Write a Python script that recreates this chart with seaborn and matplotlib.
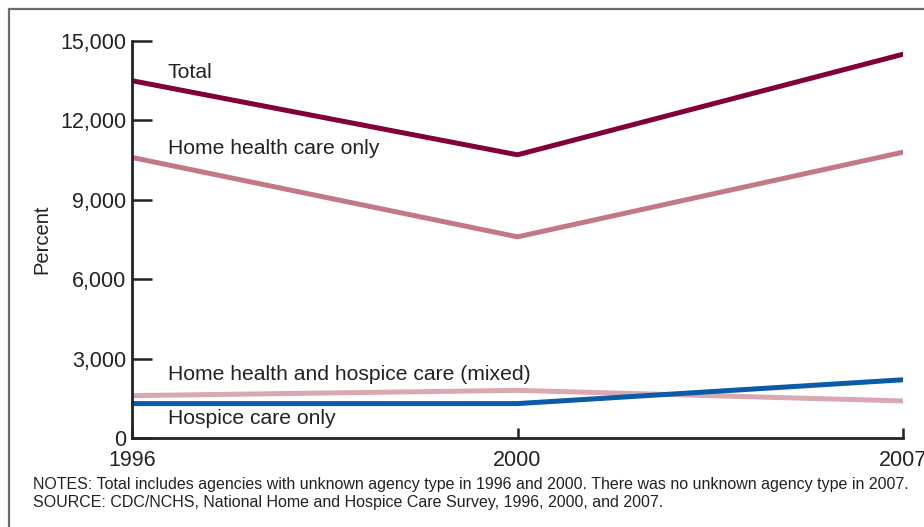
import matplotlib
matplotlib.use("Agg")
import matplotlib.pyplot as plt
import seaborn as sns
import pandas as pd
from matplotlib.patches import Rectangle

# ---- data ----
years = ["1996", "2000", "2007"]
total = [13500, 10700, 14500]
home_health_only = [10600, 7600, 10800]
mixed = [1600, 1800, 1400]
hospice_only = [1300, 1300, 2200]

series_names = ["Total", "Home health care only",
                "Home health and hospice care (mixed)", "Hospice care only"]
series_values = [total, home_health_only, mixed, hospice_only]
colors = ["#82003A", "#C27886", "#D9A9B1", "#0A5BA8"]

y_ticks = [0, 3000, 6000, 9000, 12000, 15000]
y_tick_labels = ["0", "3,000", "6,000", "9,000", "12,000", "15,000"]

rows = []
for name, vals in zip(series_names, series_values):
    for yr, v in zip(years, vals):
        rows.append({"Year": yr, "Value": v, "Series": name})
df = pd.DataFrame(rows)

sns.set_style("white")
plt.rcParams["font.family"] = ["Liberation Sans", "DejaVu Sans"]

W, H = 924, 527
fig = plt.figure(figsize=(W / 100, H / 100), dpi=100)
ax = fig.add_axes([132 / W, 1 - 438 / H, (903 - 132) / W, (438 - 41) / H])

sns.lineplot(data=df, x="Year", y="Value", hue="Series",
             hue_order=series_names, palette=colors, linewidth=3.6,
             sort=False, legend=False, ax=ax)

ax.set_xlim(0, 2)
ax.set_ylim(0, 15000)
ax.set_yticks(y_ticks)
ax.set_yticklabels(y_tick_labels)
ax.set_xticks(range(len(years)))
ax.set_xticklabels(years)

for s in ["top", "right"]:
    ax.spines[s].set_visible(False)
for s in ["left", "bottom"]:
    ax.spines[s].set_linewidth(2)
    ax.spines[s].set_color("#222222")

ax.tick_params(axis="y", left=True, direction="in", length=14.5, width=1.8,
               color="#222222", labelsize=15.5, labelcolor="#222222", pad=4)
ax.tick_params(axis="x", bottom=True, direction="in", length=7.5, width=1.8,
               color="#222222", labelsize=15.5, labelcolor="#222222", pad=8.5)

ax.set_xlabel("")
ax.set_ylabel("Percent", fontsize=14.5, color="#222222")
ax.yaxis.set_label_coords(-0.104, 0.5)
ax.patch.set_alpha(0)

# series labels
lab_x = (168 - 132) / (903 - 132)
label_pos = [(72, series_names[0]), (149, series_names[1]),
             (375, series_names[2]), (418, series_names[3])]
for ypix, txt in label_pos:
    ax.text(lab_x, (438 - ypix) / (438 - 41), txt, transform=ax.transAxes,
            fontsize=15.2, color="#222222", va="center", ha="left")

# frame around figure
fig.patches.append(Rectangle((9 / W, -0.05), 1.1, 1 - 9 / H + 0.05,
                             transform=fig.transFigure, fill=False,
                             edgecolor="#6b6b6b", linewidth=1.6))

fig.text(33 / W, 1 - 484 / H,
         "NOTES: Total includes agencies with unknown agency type in 1996 and 2000. "
         "There was no unknown agency type in 2007.",
         fontsize=11.5, color="#222222", va="center", ha="left")
fig.text(33 / W, 1 - 503 / H,
         "SOURCE: CDC/NCHS, National Home and Hospice Care Survey, 1996, 2000, and 2007.",
         fontsize=11.5, color="#222222", va="center", ha="left")

fig.savefig("out.png", dpi=100)
